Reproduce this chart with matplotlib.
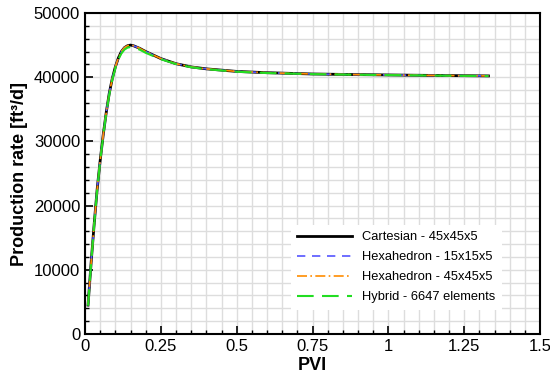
import matplotlib.pyplot as plt
import numpy as np
from matplotlib.ticker import MultipleLocator

plt.rcParams['font.family'] = ['Liberation Sans', 'DejaVu Sans']

pvi = [0.01, 0.02, 0.03, 0.04, 0.05, 0.06, 0.07, 0.08, 0.09, 0.10, 0.11, 0.12,
       0.13, 0.14, 0.15, 0.16, 0.18, 0.20, 0.25, 0.30, 0.35, 0.40, 0.50, 0.60,
       0.75, 0.90, 1.00, 1.10, 1.20, 1.33]

cartesian_45 = [4500, 11000, 17000, 22500, 27000, 31000, 34500, 37500, 39800, 41600,
                43000, 44000, 44600, 44900, 45000, 44900, 44500, 44000, 42900, 42100,
                41600, 41300, 40900, 40700, 40500, 40400, 40350, 40300, 40250, 40200]
hexa_15 = [4500, 11000, 17000, 22500, 27000, 31000, 34500, 37500, 39800, 41600,
           43000, 44000, 44600, 44900, 45000, 44900, 44500, 44000, 42900, 42100,
           41600, 41300, 40900, 40700, 40500, 40400, 40350, 40300, 40250, 40200]
hexa_45 = [4500, 11000, 17000, 22500, 27000, 31000, 34500, 37500, 39800, 41600,
           43000, 44000, 44600, 44900, 45000, 44900, 44500, 44000, 42900, 42100,
           41600, 41300, 40900, 40700, 40500, 40400, 40350, 40300, 40250, 40200]
hybrid = [4400, 10900, 16900, 22400, 26900, 30900, 34400, 37300, 39600, 41400,
          42800, 43700, 44300, 44600, 44700, 44600, 44300, 43800, 42800, 42050,
          41550, 41250, 40850, 40650, 40480, 40380, 40330, 40280, 40230, 40180]

labels = ['Cartesian - 45x45x5', 'Hexahedron - 15x15x5',
          'Hexahedron - 45x45x5', 'Hybrid - 6647 elements']

fig = plt.figure(figsize=(5.5, 3.75), dpi=100)
ax = fig.add_axes([85/550, 1-334/375, 455/550, 321/375])

ax.plot(pvi, cartesian_45, color='black', lw=2, label=labels[0])
ax.plot(pvi, hexa_15, color='#5555ff', lw=1.2, ls=(0, (5, 4)), label=labels[1])
ax.plot(pvi, hexa_45, color='#ff8c00', lw=1.2, ls=(0, (6, 2, 1, 2)), label=labels[2])
ax.plot(pvi, hybrid, color='#22dd22', lw=1.5, ls=(0, (8, 4)), label=labels[3])

ax.set_xlim(0, 1.5)
ax.set_ylim(0, 50000)
ax.xaxis.set_major_locator(MultipleLocator(0.25))
ax.xaxis.set_minor_locator(MultipleLocator(0.05))
ax.yaxis.set_major_locator(MultipleLocator(10000))
ax.yaxis.set_minor_locator(MultipleLocator(2000))
ax.set_xticks([0, 0.25, 0.5, 0.75, 1, 1.25, 1.5])
ax.set_xticklabels(['0', '0.25', '0.5', '0.75', '1', '1.25', '1.5'])
ax.grid(True, which='both', color='#dddddd', lw=1)
ax.set_axisbelow(True)
ax.tick_params(which='both', direction='in', top=False, right=False, labelsize=12)
ax.tick_params(which='major', length=6, width=1.2)
ax.tick_params(which='minor', length=3, width=1)
for s in ax.spines.values():
    s.set_linewidth(1.5)

ax.set_xlabel('PVI', fontsize=13, fontweight='bold', labelpad=2)
ax.set_ylabel('Production rate [ft³/d]', fontsize=13, fontweight='bold')

leg = ax.legend(loc='lower right', bbox_to_anchor=(0.93, 0.055), frameon=True,
                fontsize=9.3, handlelength=4.2, edgecolor='none', framealpha=1,
                fancybox=False, borderpad=0.5, labelspacing=0.62, handletextpad=0.8)

fig.savefig('out.png', dpi=100)
